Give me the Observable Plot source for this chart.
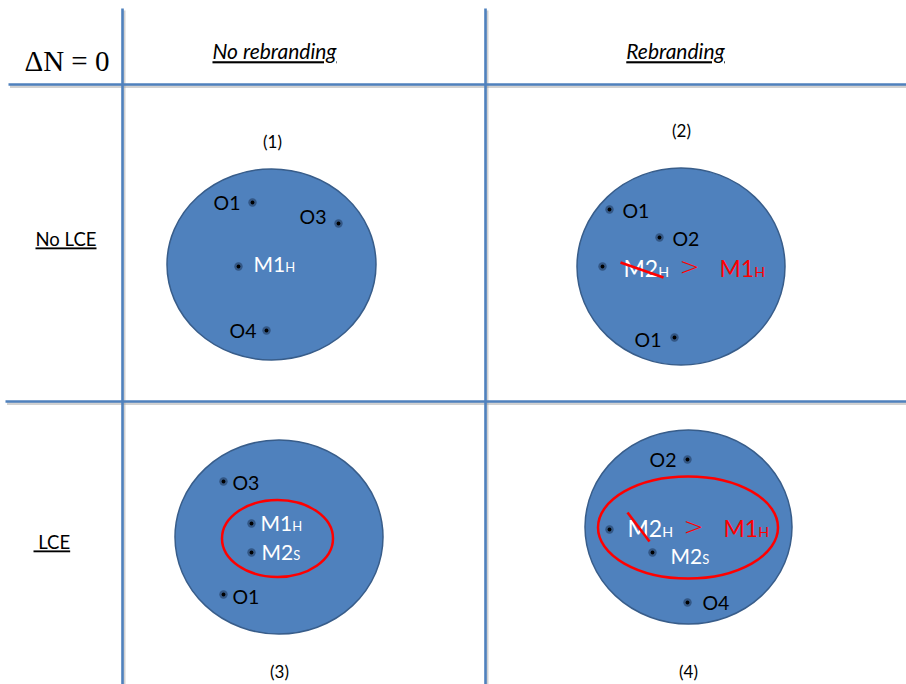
<!DOCTYPE html>
<html><head><meta charset="utf-8">
<script src="https://cdn.jsdelivr.net/npm/d3@7"></script>
<script src="https://cdn.jsdelivr.net/npm/@observablehq/plot@0.6"></script>
<style>body{margin:0;background:#fff}</style>
</head><body><div id="chart"></div>
<script>
// Grid lines of the 2x2 table
const gridLines = [
  {x1:122,y1:8,x2:122,y2:684},
  {x1:485,y1:8,x2:485,y2:684},
  {x1:8,y1:84,x2:906,y2:84},
  {x1:5,y1:401,x2:906,y2:401}
];
// Header / row labels
const headers = [
  {x:274,y:52,t:"No rebranding"},
  {x:675,y:52,t:"Rebranding"}
];
const rowLabels = [
  {x:35,y:240,t:"No LCE"},
  {x:33,y:543,t:"\u00a0LCE"}
];
const panelNumbers = [
  {x:272,y:142,t:"(1)"},{x:681,y:131,t:"(2)"},{x:279,y:672,t:"(3)"},{x:688,y:672,t:"(4)"}
];
// Market circles and LCE ellipses
const markets = [
  {cx:271.5,cy:264.5,rx:104.5,ry:95.5},
  {cx:681,cy:266.5,rx:104,ry:98.5},
  {cx:279,cy:537,rx:104,ry:97},
  {cx:688.5,cy:527,rx:103.5,ry:97}
];
const lceRings = [
  {cx:277.5,cy:538.5,rx:55.5,ry:38.5},
  {cx:688,cy:527.5,rx:90,ry:51}
];
// Firm positions
const firms = [
  {x:252,y:202},{x:338,y:223},{x:238,y:266},{x:266,y:330},
  {x:609,y:209},{x:659,y:237},{x:602,y:266},{x:674,y:337},
  {x:223,y:481},{x:251,y:523},{x:251,y:552},{x:223,y:594},
  {x:687,y:459},{x:609,y:529},{x:652,y:552},{x:687,y:602}
];
const firmLabelsEnd = [
  {x:240,y:203,t:"O1"},{x:326,y:217,t:"O3"},{x:256,y:331,t:"O4"},
  {x:661,y:340,t:"O1"},{x:676,y:460,t:"O2"}
];
const firmLabelsStart = [
  {x:622,y:211,t:"O1"},{x:672,y:239,t:"O2"},
  {x:232,y:483,t:"O3"},{x:232,y:597,t:"O1"},
  {x:702,y:603,t:"O4"}
];
const brandLabels = [
  {x:253,y:265,t:"M1|H",c:"white",s:21},
  {x:623,y:269,t:"M2|H",c:"white",s:23},
  {x:719,y:269,t:"M1|H",c:"#ff0000",s:23},
  {x:260,y:524,t:"M1|H",c:"white",s:21},
  {x:261,y:553,t:"M2|S",c:"white",s:21},
  {x:627,y:529,t:"M2|H",c:"white",s:23},
  {x:723,y:529,t:"M1|H",c:"#ff0000",s:23},
  {x:670,y:557,t:"M2|S",c:"white",s:21}
];
const comparisons = [
  {x:689,y:267,t:">"},
  {x:693,y:527,t:">"}
];
const strikes = [
  {x1:620,y1:262,x2:663,y2:277},
  {x1:627,y1:512,x2:649,y2:541}
];

const ellipseMark = (data, fill, stroke, sw) => (index, scales) => {
  const g = d3.create("svg:g");
  g.selectAll("ellipse").data(data).join("ellipse")
    .attr("cx", d => scales.x(d.cx)).attr("cy", d => scales.y(d.cy))
    .attr("rx", d => Math.abs(scales.x(d.cx + d.rx) - scales.x(d.cx)))
    .attr("ry", d => Math.abs(scales.y(d.cy + d.ry) - scales.y(d.cy)))
    .attr("fill", fill).attr("stroke", stroke).attr("stroke-width", sw);
  return g.node();
};

const font = "Lato, 'Open Sans', sans-serif";
const plot = Plot.plot({
  width: 906, height: 684, margin: 0,
  x: {domain: [0, 906], axis: null},
  y: {domain: [0, 684], reverse: true, axis: null},
  style: {fontFamily: font, background: "white"},
  marks: [
    Plot.link(gridLines, {x1:"x1",y1:"y1",x2:"x2",y2:"y2", stroke:"#9a9a9a", strokeOpacity:0.45, strokeWidth:3, dx:1.5, dy:2}),
    Plot.link(gridLines, {x1:"x1",y1:"y1",x2:"x2",y2:"y2", stroke:"#4f81bd", strokeWidth:2.6}),
    ellipseMark(markets, "#4f81bd", "#385d8a", 1.5),
    ellipseMark(lceRings, "none", "#ff0000", 2.5),
    Plot.dot(firms, {x:"x", y:"y", r:4.2, fill:"#1e3557", fillOpacity:0.55}),
    Plot.dot(firms, {x:"x", y:"y", r:1.9, fill:"black"}),
    Plot.text(firmLabelsEnd, {x:"x", y:"y", text:"t", textAnchor:"end", fontSize:19.5, fill:"black"}),
    Plot.text(firmLabelsStart, {x:"x", y:"y", text:"t", textAnchor:"start", fontSize:19.5, fill:"black"}),
    Plot.text(brandLabels, {x:"x", y:"y", text:"t", textAnchor:"start", fontSize:"s", fill:"c"}),
    Plot.text(comparisons, {x:"x", y:"y", text:"t", fontSize:24, fill:"#ff0000", fontFamily:"'DejaVu Sans', sans-serif", fontWeight:300}),
    Plot.link(strikes, {x1:"x1",y1:"y1",x2:"x2",y2:"y2", stroke:"#ff0000", strokeWidth:2.6}),
    Plot.text(headers, {x:"x", y:"y", text:"t", fontSize:21, fontStyle:"italic", fill:"black"}),
    Plot.text(rowLabels, {x:"x", y:"y", text:"t", textAnchor:"start", fontSize:18.5, fill:"black"}),
    Plot.text(panelNumbers, {x:"x", y:"y", text:"t", fontSize:17, fill:"black"}),
    Plot.text(["\u0394N = 0"], {frameAnchor:"top-left", dx:24, dy:50, text:d=>d, fontSize:29, fontFamily:"'Liberation Serif', 'DejaVu Serif', serif", fill:"black"})
  ]
});
// subscripts and underlines
const underlined = new Set([...headers, ...rowLabels].map(d => d.t));
d3.select(plot).selectAll("text").each(function() {
  const el = d3.select(this);
  const txt = this.textContent;
  if (txt.includes("|")) {
    const [main, sub] = txt.split("|");
    el.text(null);
    el.append("tspan").text(main);
    el.append("tspan").attr("font-size", "62%").text(sub);
  }
  if (underlined.has(txt)) el.style("text-decoration", "underline");
});
document.getElementById("chart").append(plot);
</script>
</body></html>
